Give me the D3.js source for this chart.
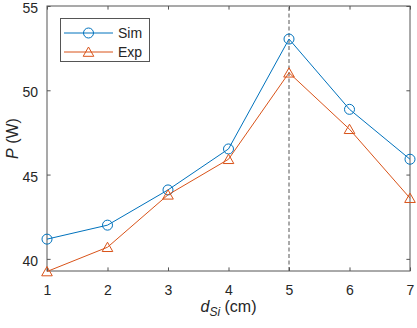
<!DOCTYPE html>
<html>
<head>
<meta charset="utf-8">
<script src="https://cdn.jsdelivr.net/npm/d3@7"></script>
<style>
  html, body { margin: 0; padding: 0; background: #fff; }
  svg { display: block; font-family: "Liberation Sans", Arial, sans-serif; }
</style>
</head>
<body>
<svg id="chart" width="417" height="328"></svg>
<script>
// ---- data ----
const categories = [1, 2, 3, 4, 5, 6, 7];
const simValues = [41.17, 42.0, 44.09, 46.52, 53.04, 48.87, 45.91];
const expValues = [39.25, 40.69, 43.8, 45.91, 51.04, 47.69, 43.6];
const xTicks = [1, 2, 3, 4, 5, 6, 7];
const yTicks = [40, 45, 50, 55];
const seriesNames = ["Sim", "Exp"];
const markerX = 5;
const yDomain = [39.28, 55];

// ---- layout ----
const W = 417, H = 328;
const m = { left: 47, right: 7, top: 6, bottom: 57 };
const colors = ["#0072BD", "#D95319"];
const axisColor = "#555";

const svg = d3.select("#chart");
const x = d3.scaleLinear().domain([1, 7]).range([m.left, W - m.right]);
const y = d3.scaleLinear().domain(yDomain).range([H - m.bottom, m.top]);

const tickLen = 3.6;
const gx = svg.append("g").attr("transform", `translate(0,${H - m.bottom})`)
  .call(d3.axisBottom(x).tickValues(xTicks).tickSizeInner(-tickLen).tickSizeOuter(0).tickPadding(14).tickFormat(d3.format("d")));
const gxt = svg.append("g").attr("transform", `translate(0,${m.top})`)
  .call(d3.axisTop(x).tickValues(xTicks).tickSizeInner(-tickLen).tickSizeOuter(0).tickFormat(""));
const gy = svg.append("g").attr("transform", `translate(${m.left},0)`)
  .call(d3.axisLeft(y).tickValues(yTicks).tickSizeInner(-tickLen).tickSizeOuter(0).tickPadding(9).tickFormat(d3.format("d")));
const gyr = svg.append("g").attr("transform", `translate(${W - m.right},0)`)
  .call(d3.axisRight(y).tickValues(yTicks).tickSizeInner(-tickLen).tickSizeOuter(0).tickFormat(""));

[gx, gxt, gy, gyr].forEach(g => {
  g.select(".domain").remove();
  g.selectAll(".tick line").attr("stroke", axisColor).attr("stroke-width", 1);
  g.selectAll(".tick text").attr("fill", "#262626").attr("font-size", 14)
    .attr("font-family", "Liberation Sans, Arial, sans-serif");
});
gy.selectAll(".tick text").attr("dy", "0.46em");

svg.append("rect")
  .attr("x", m.left).attr("y", m.top)
  .attr("width", W - m.right - m.left).attr("height", H - m.bottom - m.top)
  .attr("fill", "none").attr("stroke", axisColor).attr("stroke-width", 1);

svg.append("line")
  .attr("x1", x(markerX)).attr("x2", x(markerX))
  .attr("y1", y(yDomain[0])).attr("y2", y(yDomain[1]))
  .attr("stroke", "#555").attr("stroke-width", 1).attr("stroke-dasharray", "4,2.5");

const series = [simValues, expValues];
const line = d3.line().x((d, i) => x(categories[i])).y(d => y(d));
const triPath = "M0,-5 L5.3,4.3 L-5.3,4.3 Z";

series.forEach((vals, si) => {
  svg.append("path").datum(vals)
    .attr("d", line).attr("fill", "none")
    .attr("stroke", colors[si]).attr("stroke-width", 1);
  const g = svg.append("g");
  vals.forEach((v, i) => {
    if (si === 0) {
      g.append("circle").attr("cx", x(categories[i])).attr("cy", y(v)).attr("r", 5)
        .attr("fill", "none").attr("stroke", colors[si]).attr("stroke-width", 1);
    } else {
      g.append("path").attr("d", triPath)
        .attr("transform", `translate(${x(categories[i])},${y(v)})`)
        .attr("fill", "none").attr("stroke", colors[si]).attr("stroke-width", 1);
    }
  });
});

const xl = svg.append("text")
  .attr("x", (m.left + W - m.right) / 2).attr("y", 312)
  .attr("text-anchor", "middle").attr("font-size", 16).attr("fill", "#262626");
xl.append("tspan").attr("font-style", "italic").text("d");
xl.append("tspan").attr("font-style", "italic").attr("font-size", 12).attr("dy", 4).text("Si");
xl.append("tspan").attr("dy", -4).text(" (cm)");

const yl = svg.append("text")
  .attr("transform", `translate(18,${(m.top + H - m.bottom) / 2}) rotate(-90)`)
  .attr("text-anchor", "middle").attr("font-size", 16).attr("fill", "#262626");
yl.append("tspan").attr("font-style", "italic").text("P");
yl.append("tspan").text(" (W)");

const lg = svg.append("g");
lg.append("rect").attr("x", 60.5).attr("y", 18.5).attr("width", 89).attr("height", 43)
  .attr("fill", "#fff").attr("stroke", axisColor).attr("stroke-width", 1);
seriesNames.forEach((name, i) => {
  const cy = 33 + i * 19;
  lg.append("line").attr("x1", 64).attr("x2", 113).attr("y1", cy).attr("y2", cy)
    .attr("stroke", colors[i]).attr("stroke-width", 1);
  if (i === 0) {
    lg.append("circle").attr("cx", 88.5).attr("cy", cy).attr("r", 5)
      .attr("fill", "none").attr("stroke", colors[i]);
  } else {
    lg.append("path").attr("d", triPath).attr("transform", `translate(88.5,${cy})`)
      .attr("fill", "none").attr("stroke", colors[i]);
  }
  lg.append("text").attr("x", 118).attr("y", cy).attr("dy", "0.35em")
    .attr("font-size", 14).attr("fill", "#262626").text(name);
});
</script>
</body>
</html>
